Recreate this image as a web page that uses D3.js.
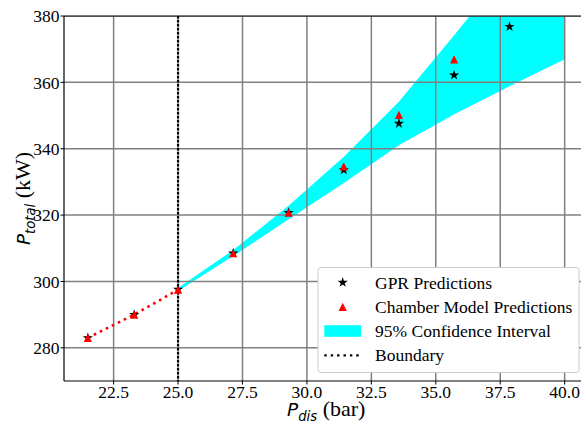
<!DOCTYPE html>
<html><head><meta charset="utf-8">
<script src="https://cdn.jsdelivr.net/npm/d3@7"></script>
<style>
body{margin:0;background:#fff;} svg{display:block;}
.serif{font-family:"Liberation Serif","Times New Roman",Times,serif;}
.msans{font-family:"DejaVu Sans",sans-serif;font-style:italic;}
</style>
</head><body>
<svg id="c" width="581" height="423"></svg>
<script>
// ---- data ----
const xTicks = [22.5, 25.0, 27.5, 30.0, 32.5, 35.0, 37.5, 40.0];
const yTicks = [280, 300, 320, 340, 360, 380];
const chamberX = [21.5, 23.3, 25.0, 27.14, 29.29, 31.43, 33.57, 35.71, 37.86];
const chamberY = [283.0, 290.0, 297.5, 308.5, 320.7, 334.7, 350.2, 366.9, 384.0];
const gprX = [21.5, 23.3, 25.0, 27.14, 29.29, 31.43, 33.57, 35.71, 37.86, 40.0];
const gprY = [283.0, 290.0, 297.6, 308.5, 320.7, 333.6, 347.6, 362.2, 376.8, 392.0];
const ciX = [25.0, 27.14, 29.29, 31.43, 33.57, 35.71, 37.86, 40.0];
const ciLower = [297.3, 307.8, 318.9, 329.8, 341.2, 350.5, 359.0, 367.1];
const ciUpper = [297.9, 309.3, 322.7, 337.4, 354.0, 374.0, 394.6, 417.0];
const extrapX = [21.5, 23.3, 25.0];
const extrapY = [283.0, 290.0, 297.5];
const boundaryX = 25.0;
const legendLabels = ["GPR Predictions", "Chamber Model Predictions", "95% Confidence Interval", "Boundary"];

// ---- layout ----
const L = 64, T = 16, B = 381, R = 588.5;
const x = d3.scaleLinear().domain([20.575, 40.925]).range([L, R]);
const y = d3.scaleLinear().domain([270, 380]).range([B, T]);
const svg = d3.select("#c");

svg.append("defs").append("clipPath").attr("id", "clip")
  .append("rect").attr("x", L).attr("y", T).attr("width", R - L).attr("height", B - T);
const plot = svg.append("g").attr("clip-path", "url(#clip)");

// band
const area = d3.area().x((d, i) => x(ciX[i])).y0((d, i) => y(ciLower[i])).y1((d, i) => y(ciUpper[i]));
plot.append("path").datum(ciX).attr("d", area)
  .attr("fill", "#00ffff").attr("stroke", "#00ffff").attr("stroke-width", 1);

// grid
plot.selectAll(".gx").data(xTicks).enter().append("line")
  .attr("x1", d => x(d)).attr("x2", d => x(d)).attr("y1", T).attr("y2", B)
  .attr("stroke", "#808080").attr("stroke-width", 1.5);
plot.selectAll(".gy").data(yTicks).enter().append("line")
  .attr("x1", L).attr("x2", R).attr("y1", d => y(d)).attr("y2", d => y(d))
  .attr("stroke", "#808080").attr("stroke-width", 1.5);

// boundary
plot.append("line").attr("x1", x(boundaryX)).attr("x2", x(boundaryX)).attr("y1", T).attr("y2", B)
  .attr("stroke", "#000").attr("stroke-width", 2.2).attr("stroke-dasharray", "2.4,1.6");

// red dotted extrapolation
plot.append("path").datum(extrapX)
  .attr("d", d3.line().x((d, i) => x(extrapX[i])).y((d, i) => y(extrapY[i])))
  .attr("fill", "none").attr("stroke", "#ff0000").attr("stroke-width", 2.6)
  .attr("stroke-dasharray", "2.6,4.1");

function starPath(r) {
  const pts = [];
  for (let i = 0; i < 10; i++) {
    const rr = i % 2 === 0 ? r : r * 0.381966;
    const a = -Math.PI / 2 + i * Math.PI / 5;
    pts.push([rr * Math.cos(a), rr * Math.sin(a)]);
  }
  return "M" + pts.map(p => p[0].toFixed(2) + "," + p[1].toFixed(2)).join("L") + "Z";
}
function triPath(s) {
  const h = s / 2;
  return `M0,${-h}L${-h},${h}L${h},${h}Z`;
}

plot.selectAll(".star").data(gprX).enter().append("path")
  .attr("d", starPath(5.4))
  .attr("transform", (d, i) => `translate(${x(gprX[i])},${y(gprY[i])})`)
  .attr("fill", "#000");
plot.selectAll(".tri").data(chamberX).enter().append("path")
  .attr("d", triPath(8.2))
  .attr("transform", (d, i) => `translate(${x(chamberX[i])},${y(chamberY[i])})`)
  .attr("fill", "#ff0000");

// spines
svg.append("line").attr("x1", L).attr("x2", L).attr("y1", T).attr("y2", B).attr("stroke", "#000").attr("stroke-width", 1.2);
svg.append("line").attr("x1", L).attr("x2", R).attr("y1", B).attr("y2", B).attr("stroke", "#000").attr("stroke-width", 1.2);
svg.append("line").attr("x1", L).attr("x2", R).attr("y1", T).attr("y2", T).attr("stroke", "#000").attr("stroke-width", 1.2);

// ticks
svg.selectAll(".tx").data(xTicks).enter().append("line")
  .attr("x1", d => x(d)).attr("x2", d => x(d)).attr("y1", B).attr("y2", B + 3.5)
  .attr("stroke", "#000").attr("stroke-width", 1);
svg.selectAll(".txl").data(xTicks).enter().append("text").attr("class", "serif")
  .attr("x", d => x(d)).attr("y", 397.5).attr("text-anchor", "middle")
  .style("font-size", "17.5px").text(d => d.toFixed(1));
svg.selectAll(".ty").data(yTicks).enter().append("line")
  .attr("x1", L - 3.5).attr("x2", L).attr("y1", d => y(d)).attr("y2", d => y(d))
  .attr("stroke", "#000").attr("stroke-width", 1);
svg.selectAll(".tyl").data(yTicks).enter().append("text").attr("class", "serif")
  .attr("x", L - 4.5).attr("y", d => y(d) + 6.4).attr("text-anchor", "end")
  .style("font-size", "17.5px").text(d => d);

// axis labels
const cx = (L + R) / 2, cy = (T + B) / 2;
const xl = svg.append("text").attr("class", "serif").attr("x", cx).attr("y", 415.7).attr("text-anchor", "middle").style("font-size", "22px");
xl.append("tspan").attr("class", "msans").style("font-size", "18.5px").text("P");
xl.append("tspan").attr("class", "msans").style("font-size", "13.2px").attr("dy", 5).text("dis");
xl.append("tspan").attr("class", "serif").attr("dy", -5).text(" (bar)");

const yl = svg.append("text").attr("class", "serif").attr("transform", `translate(30,${cy}) rotate(-90)`).attr("text-anchor", "middle").style("font-size", "22px");
yl.append("tspan").attr("class", "msans").style("font-size", "18.5px").text("P");
yl.append("tspan").attr("class", "msans").style("font-size", "13.2px").attr("dy", 5).text("total");
yl.append("tspan").attr("class", "serif").attr("dy", -5).text(" (kW)");

// legend
const lg = svg.append("g");
lg.append("rect").attr("x", 318).attr("y", 267.5).attr("width", 261).attr("height", 105).attr("rx", 3)
  .attr("fill", "#fff").attr("stroke", "#cccccc").attr("stroke-width", 1);
const rowY = [282.5, 306.8, 331, 355.3];
lg.append("path").attr("d", starPath(5.4)).attr("transform", `translate(342.7,${rowY[0]})`).attr("fill", "#000");
lg.append("path").attr("d", triPath(8.2)).attr("transform", `translate(342.7,${rowY[1]})`).attr("fill", "#ff0000");
lg.append("rect").attr("x", 324.3).attr("y", rowY[2] - 5.8).attr("width", 36.7).attr("height", 11.6).attr("fill", "#00ffff");
lg.append("line").attr("x1", 324.3).attr("x2", 361).attr("y1", rowY[3]).attr("y2", rowY[3])
  .attr("stroke", "#000").attr("stroke-width", 2.2).attr("stroke-dasharray", "2.4,4");
lg.selectAll(".lt").data(legendLabels).enter().append("text").attr("class", "serif")
  .attr("x", 375).attr("y", (d, i) => rowY[i] + 6).style("font-size", "17.5px").text(d => d);
</script>
</body></html>
